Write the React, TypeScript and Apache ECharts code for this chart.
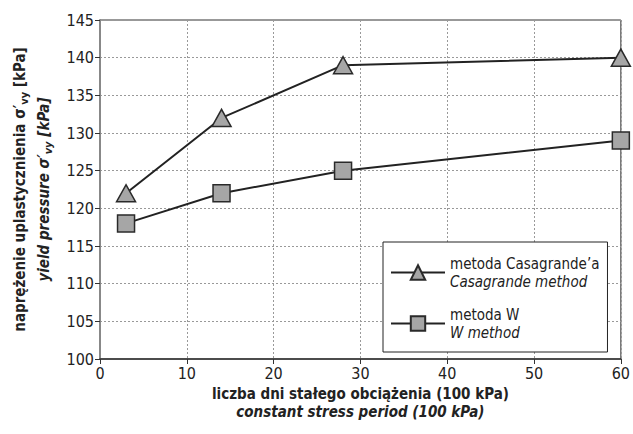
import React, { useEffect, useRef } from "react";
import * as echarts from "echarts";

const days = [3, 14, 28, 60];
const casagrande = [122, 132, 139, 140];
const wMethod = [118, 122, 125, 129];
const xTicks = [0, 10, 20, 30, 40, 50, 60];

const FONT = "'Liberation Sans Narrow', 'DejaVu Sans Condensed', 'Roboto', sans-serif";

export default function App() {
  const ref = useRef<HTMLDivElement>(null);
  useEffect(() => {
    if (!ref.current) return;
    const chart = echarts.init(ref.current, null, { renderer: "svg" });
    const markerStyle = { color: "#a6a6a6", borderColor: "#2a2a2a", borderWidth: 1.5 };
    chart.setOption({
      animation: false,
      backgroundColor: "#ffffff",
      textStyle: { fontFamily: FONT },
      grid: {
        left: 100,
        right: 7,
        top: 20,
        bottom: 75,
        show: true,
        borderColor: "#333",
        borderWidth: 1,
      },
      xAxis: {
        type: "value",
        min: 0,
        max: 60,
        interval: 10,
        name: "{b|liczba dni stałego obciążenia (100 kPa)}\n{i|constant stress period (100 kPa)}",
        nameLocation: "middle",
        nameGap: 26,
        nameTextStyle: {
          rich: {
            b: { fontFamily: FONT, fontSize: 15, fontWeight: "bold", color: "#222", lineHeight: 18 },
            i: { fontFamily: FONT, fontSize: 15, fontWeight: "bold", fontStyle: "italic", color: "#222", lineHeight: 18 },
          },
        },
        axisLine: { lineStyle: { color: "#333", width: 1.5 } },
        axisTick: { show: true, length: 5, lineStyle: { color: "#333" } },
        axisLabel: {
          fontFamily: FONT,
          fontSize: 16,
          color: "#222",
          margin: 6,
          formatter: (v: number) => (xTicks.includes(v) ? String(v) : ""),
        },
        splitLine: { lineStyle: { color: "#999", type: [2, 2], width: 1 } },
      },
      yAxis: {
        type: "value",
        min: 100,
        max: 145,
        interval: 5,
        name:
          "{b|naprężenie uplastycznienia σ′}{bs|vy}{b| [kPa]}\n{i|yield pressure σ′}{is|vy}{i| [kPa]}",
        nameLocation: "middle",
        nameRotate: 90,
        nameGap: 44,
        nameTextStyle: {
          rich: {
            b: { fontFamily: FONT, fontSize: 15, fontWeight: "bold", color: "#222", lineHeight: 24 },
            bs: { fontFamily: FONT, fontSize: 11, fontWeight: "bold", color: "#222", lineHeight: 24, padding: [8, 0, 0, 0] },
            i: { fontFamily: FONT, fontSize: 15, fontWeight: "bold", fontStyle: "italic", color: "#222", lineHeight: 24 },
            is: { fontFamily: FONT, fontSize: 11, fontWeight: "bold", fontStyle: "italic", color: "#222", lineHeight: 24, padding: [8, 0, 0, 0] },
          },
        },
        axisLine: { show: true, lineStyle: { color: "#888", width: 2 } },
        axisTick: { show: true, length: 5, lineStyle: { color: "#333" } },
        axisLabel: { fontFamily: FONT, fontSize: 16, color: "#222", margin: 6 },
        splitLine: { lineStyle: { color: "#999", type: [2, 2], width: 1 } },
      },
      legend: {
        show: true,
        orient: "vertical",
        left: 383,
        top: 242,
        width: 229,
        height: 105,
        padding: [14, 8, 12, 7],
        backgroundColor: "#ffffff",
        borderColor: "#222",
        borderWidth: 1,
        itemWidth: 54,
        itemHeight: 18,
        itemGap: 18,
        textStyle: {
          rich: {
            n: { fontFamily: FONT, fontSize: 15, color: "#222", lineHeight: 18 },
            it: { fontFamily: FONT, fontSize: 15, fontStyle: "italic", color: "#222", lineHeight: 18 },
          },
        },
        formatter: (name: string) =>
          name === "Casagrande"
            ? "{n|metoda Casagrande’a}\n{it|Casagrande method}"
            : "{n|metoda W}\n{it|W method}",
        data: ["Casagrande", "W"],
      },
      series: [
        {
          name: "Casagrande",
          type: "line",
          data: days.map((d, i) => [d, casagrande[i]]),
          symbol: "triangle",
          symbolSize: [19, 17],
          lineStyle: { color: "#222", width: 2 },
          itemStyle: markerStyle,
          z: 3,
        },
        {
          name: "W",
          type: "line",
          data: days.map((d, i) => [d, wMethod[i]]),
          symbol: "rect",
          symbolSize: 17,
          lineStyle: { color: "#222", width: 2 },
          itemStyle: markerStyle,
          z: 3,
        },
      ],
    });
    return () => chart.dispose();
  }, []);
  return (
    <div
      ref={ref}
      style={{ position: "fixed", left: 0, top: 0, width: 633, height: 434 }}
    />
  );
}
